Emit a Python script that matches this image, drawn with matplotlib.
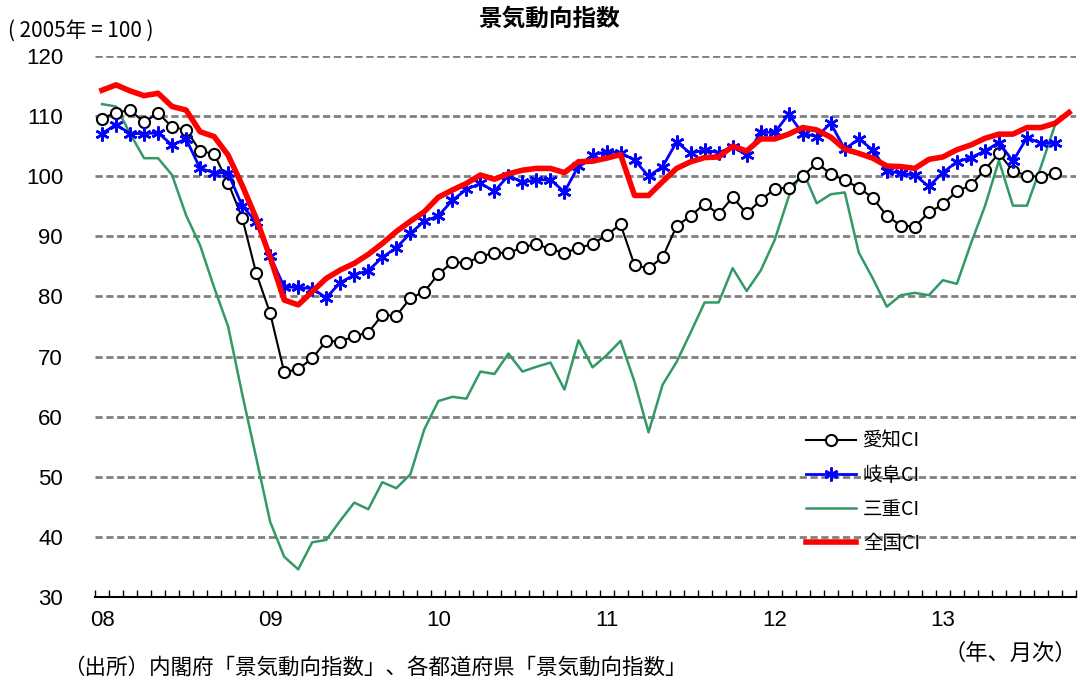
import numpy as np
import matplotlib
matplotlib.use("agg")
import matplotlib.pyplot as plt

plt.rcParams['font.family'] = ['Noto Sans CJK JP', 'DejaVu Sans']

# monthly, Jan 2008 onwards
aichi = [109.6, 110.6, 111.0, 109.0, 110.5, 108.2, 107.7, 104.2, 103.7, 98.9,
         93.1, 83.9, 77.2, 67.4, 67.9, 69.7, 72.6, 72.5, 73.4, 74.0,
         76.9, 76.8, 79.7, 80.8, 83.7, 85.7, 85.6, 86.6, 87.3, 87.2,
         88.2, 88.7, 87.9, 87.2, 88.1, 88.7, 90.2, 92.0, 85.2, 84.7,
         86.5, 91.7, 93.4, 95.4, 93.7, 96.5, 93.8, 96.0, 97.9, 98.1,
         100.0, 102.2, 100.4, 99.3, 98.1, 96.4, 93.4, 91.8, 91.6, 94.0,
         95.3, 97.5, 98.5, 101.1, 103.8, 100.9, 100.1, 99.9, 100.6]
gifu = [107.1, 108.6, 107.1, 107.1, 107.2, 105.2, 106.2, 101.3, 100.6, 100.5,
        95.1, 92.4, 86.7, 81.6, 81.5, 81.3, 79.8, 82.3, 83.6, 84.3,
        86.5, 88.1, 90.5, 92.5, 93.4, 96.0, 97.8, 98.8, 97.5, 100.1,
        99.0, 99.4, 99.4, 97.4, 101.7, 103.5, 104.1, 103.9, 102.7, 100.0,
        101.6, 105.7, 103.8, 104.4, 103.9, 104.9, 103.5, 107.3, 107.3, 110.3,
        107.1, 106.6, 108.8, 104.5, 106.2, 104.4, 100.9, 100.5, 100.2, 98.3,
        100.6, 102.4, 103.1, 104.2, 105.6, 102.5, 106.4, 105.5, 105.5]
mie = [112.0, 111.6, 107.1, 103.0, 103.0, 100.2, 93.5, 88.5, 81.5, 75.0,
       63.8, 53.2, 42.5, 36.7, 34.6, 39.1, 39.5, 42.7, 45.7, 44.6,
       49.1, 48.1, 50.4, 57.9, 62.6, 63.3, 63.0, 67.5, 67.1, 70.5,
       67.5, 68.3, 69.0, 64.5, 72.7, 68.2, 70.2, 72.6, 65.8, 57.4,
       65.3, 69.1, 74.0, 79.0, 79.0, 84.7, 80.9, 84.3, 89.4, 96.6,
       100.9, 95.5, 97.0, 97.3, 87.3, 83.0, 78.3, 80.2, 80.6, 80.2,
       82.7, 82.1, 88.8, 95.0, 102.6, 95.1, 95.1, 101.6, 108.5]
zenkoku = [114.3, 115.2, 114.2, 113.4, 113.8, 111.6, 111.0, 107.4, 106.6, 103.5,
           98.5, 93.0, 86.5, 79.4, 78.6, 80.8, 83.0, 84.4, 85.5, 87.0,
           88.8, 90.8, 92.5, 94.1, 96.5, 97.7, 98.8, 100.2, 99.5, 100.4,
           101.0, 101.3, 101.3, 100.6, 102.4, 102.5, 103.0, 103.6, 96.8, 96.8,
           99.1, 101.3, 102.4, 103.1, 103.2, 105.0, 104.2, 106.2, 106.2, 107.0,
           108.1, 107.7, 106.5, 104.5, 103.8, 103.0, 101.7, 101.6, 101.3, 102.8,
           103.2, 104.4, 105.2, 106.3, 107.0, 107.0, 108.1, 108.1, 108.8, 110.6]

year_pos = [0, 12, 24, 36, 48, 60]
year_labels = ['08', '09', '10', '11', '12', '13']
n_months = 70

num_font = ['Liberation Sans Narrow', 'Liberation Sans', 'DejaVu Sans']

fig = plt.figure(figsize=(10.82, 6.83), dpi=100)
ax = fig.add_axes([95 / 1082, 86 / 683, 981 / 1082, 541 / 683])

for v in range(40, 121, 10):
    ax.axhline(v, color='#808080', lw=2, ls=(0, (2.6, 1.3)), zorder=1)

ax.plot(np.arange(len(mie)), mie, color='#339966', lw=1.8, zorder=2, label='三重CI')
ax.plot(np.arange(len(aichi)), aichi, color='black', lw=1.5, marker='o', ms=8,
        mfc='white', mec='black', mew=1.5, zorder=3, label='愛知CI')
ax.plot(np.arange(len(gifu)), gifu, color='#0000FF', lw=2, marker=(6, 2, 0), ms=10,
        mec='#0000FF', mew=1.8, zorder=4, label='岐阜CI')
ax.plot(np.arange(len(zenkoku)), zenkoku, color='#FF0000', lw=4, zorder=5, label='全国CI')

ax.set_xlim(-0.5, n_months - 0.5)
ax.set_ylim(30, 120)
for s in ['left', 'right', 'top']:
    ax.spines[s].set_visible(False)
ax.spines['bottom'].set_linewidth(1.5)

ax.set_yticks(range(30, 121, 10))
ax.tick_params(axis='y', length=0, pad=23)
for lab in ax.get_yticklabels():
    lab.set_family(num_font)
    lab.set_fontsize(16)

ax.set_xticks(year_pos)
ax.set_xticklabels(year_labels, family=num_font, fontsize=16)
ax.set_xticks(np.arange(-0.5, n_months, 1), minor=True)
ax.tick_params(axis='x', which='major', length=0, pad=9)
ax.tick_params(axis='x', which='minor', direction='in', length=5, width=1)

h, l = ax.get_legend_handles_labels()
order = [1, 2, 0, 3]
ax.legend([h[i] for i in order], [l[i] for i in order], loc='upper left',
          bbox_to_anchor=(788 / 1082, 1 - 413 / 683), bbox_transform=fig.transFigure,
          frameon=False, fontsize=14, handlelength=2.6, labelspacing=0.68,
          numpoints=1, handletextpad=0.35)

fig.text(0.508, 0.972, '景気動向指数', ha='center', va='center', fontsize=17,
         fontweight='bold')
fig.text(0.007, 0.955, '( 2005年 = 100 )', ha='left', va='center', fontsize=15,
         family=['Liberation Sans Narrow', 'Noto Sans CJK JP'])
fig.text(0.058, 0.023, '（出所）内閣府「景気動向指数」、各都道府県「景気動向指数」',
         ha='left', va='center', fontsize=15.5)
fig.text(0.995, 0.043, '（年、月次）', ha='right', va='center', fontsize=16)

fig.savefig('out.png', dpi=100)
